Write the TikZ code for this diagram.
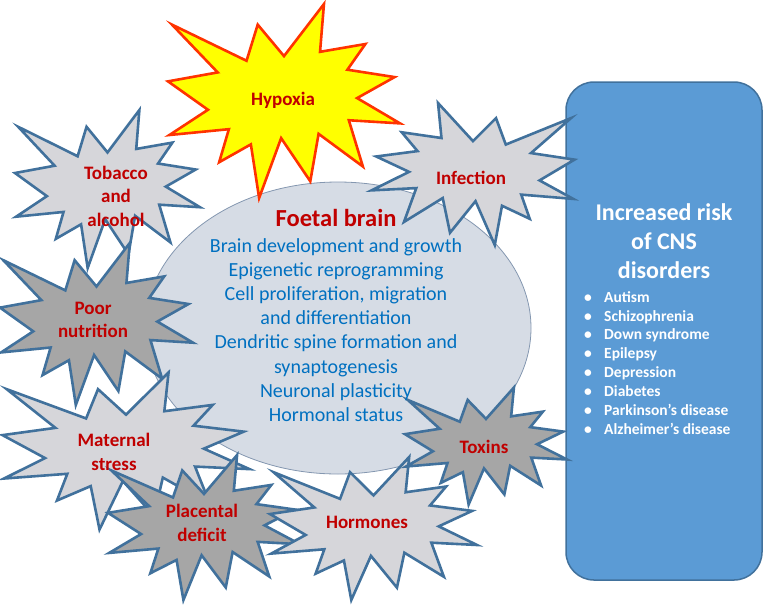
\documentclass[tikz,border=0pt]{standalone}
\usepackage{fontspec}
\setmainfont{Carlito}
\usetikzlibrary{shapes.geometric}
\definecolor{starblue}{HTML}{41719C}
\definecolor{lightfill}{HTML}{D6D6DA}
\definecolor{darkfill}{HTML}{A6A6A6}
\definecolor{hypfill}{HTML}{FFFF00}
\definecolor{hypline}{HTML}{FF3300}
\definecolor{ellfill}{HTML}{D6DCE5}
\definecolor{ellline}{HTML}{8497B0}
\definecolor{boxfill}{HTML}{5B9BD5}
\definecolor{boxline}{HTML}{41719C}
\definecolor{redtext}{HTML}{C00000}
\definecolor{bluetext}{HTML}{0070C0}
\newcommand\burstpath{(0,-0.2315) -- (0.1723,-0.5) -- (0.1553,-0.2535) -- (0.3509,-0.2937) -- (0.2732,-0.1613) -- (0.4767,-0.1233) -- (0.3151,-0.0150) -- (0.5,0.1153) -- (0.2795,0.0992) -- (0.3400,0.3377) -- (0.1491,0.1693) -- (0.1133,0.4137) -- (-0.0124,0.1914) -- (-0.1072,0.5) -- (-0.1428,0.2235) -- (-0.2795,0.3156) -- (-0.2376,0.1452) -- (-0.4938,0.1753) -- (-0.3277,0.0451) -- (-0.5,-0.1012) -- (-0.2858,-0.1474) -- (-0.4829,-0.3937) -- (-0.1615,-0.2074) -- (-0.1133,-0.3937) -- cycle}
\newcommand\burst[6]{\begin{scope}[shift={(#1,#2)},rotate=#5,xscale=#3,yscale=#4]\draw[#6] \burstpath;\end{scope}}
\tikzset{
 starline/.style={draw=starblue, line width=2.6pt, line join=miter},
 lightstar/.style={starline, fill=lightfill},
 darkstar/.style={starline, fill=darkfill},
 hypstar/.style={draw=hypline, fill=hypfill, line width=2.6pt, line join=miter},
 redlabel/.style={text=redtext, font=\bfseries\fontsize{19}{23.5}\selectfont, align=center, inner sep=0pt},
 bluelines/.style={text=bluetext, font=\fontsize{20}{24.2}\selectfont, align=center, inner sep=0pt},
}
\begin{document}
\begin{tikzpicture}[x=1pt,y=-1pt]
\useasboundingbox (0,0) rectangle (765,606);
\node[draw=boxline, fill=boxfill, line width=1.5pt, rounded corners=28pt, minimum width=196pt, minimum height=498pt, inner sep=0pt] (box) at (664,331) {};
\node[draw=ellline, fill=ellfill, ellipse, minimum width=386pt, minimum height=292pt, line width=0.8pt, inner sep=0pt] (brain) at (338,328) {};
% stars
\burst{107.5}{189}{185}{158}{0}{lightstar}
\burst{284}{101}{232}{194}{0}{hypstar}
\burst{473}{174}{-203}{142}{0}{lightstar}
\burst{96.5}{324}{193}{162}{0}{darkstar}
\burst{126}{451}{247}{157}{0}{lightstar}
\burst{204}{527.5}{192}{145}{0}{darkstar}
\burst{373.5}{528.5}{207}{143}{0}{lightstar}
\burst{486}{446}{162}{117}{0}{darkstar}
% labels
\node[redlabel] (hyp) at (283,100) {Hypoxia};
\node[redlabel] (tob) at (116,196) {Tobacco\\and\\alcohol};
\node[redlabel] (inf) at (471,178) {Infection};
\node[redlabel] (poor) at (93,320) {Poor\\nutrition};
\node[redlabel] (mat) at (114,452) {Maternal\\stress};
\node[redlabel] (plac) at (202,523) {Placental\\deficit};
\node[redlabel] (horm) at (367,522) {Hormones};
\node[redlabel] (tox) at (484,447) {Toxins};
\node[text=redtext, font=\bfseries\fontsize{24.5}{28}\selectfont, inner sep=0pt] (fb) at (336,218) {Foetal brain};
\node[bluelines] (fbl) at (336,330) {Brain development and growth\\Epigenetic reprogramming\\Cell proliferation, migration\\and differentiation\\Dendritic spine formation and\\synaptogenesis\\Neuronal plasticity\\Hormonal status};
\node[text=white, font=\bfseries\fontsize{24}{29}\selectfont, align=center, inner sep=0pt] (title) at (664,241) {Increased risk\\of CNS\\disorders};
\node[text=white, font=\bfseries\fontsize{15.5}{18.9}\selectfont, align=left, anchor=north west, inner sep=0pt] (list) at (584,291) {\makebox[20pt][l]{\textbullet}Autism\\\makebox[20pt][l]{\textbullet}Schizophrenia\\\makebox[20pt][l]{\textbullet}Down syndrome\\\makebox[20pt][l]{\textbullet}Epilepsy\\\makebox[20pt][l]{\textbullet}Depression\\\makebox[20pt][l]{\textbullet}Diabetes\\\makebox[20pt][l]{\textbullet}Parkinson’s disease\\\makebox[20pt][l]{\textbullet}Alzheimer’s disease};
\end{tikzpicture}
\end{document}
